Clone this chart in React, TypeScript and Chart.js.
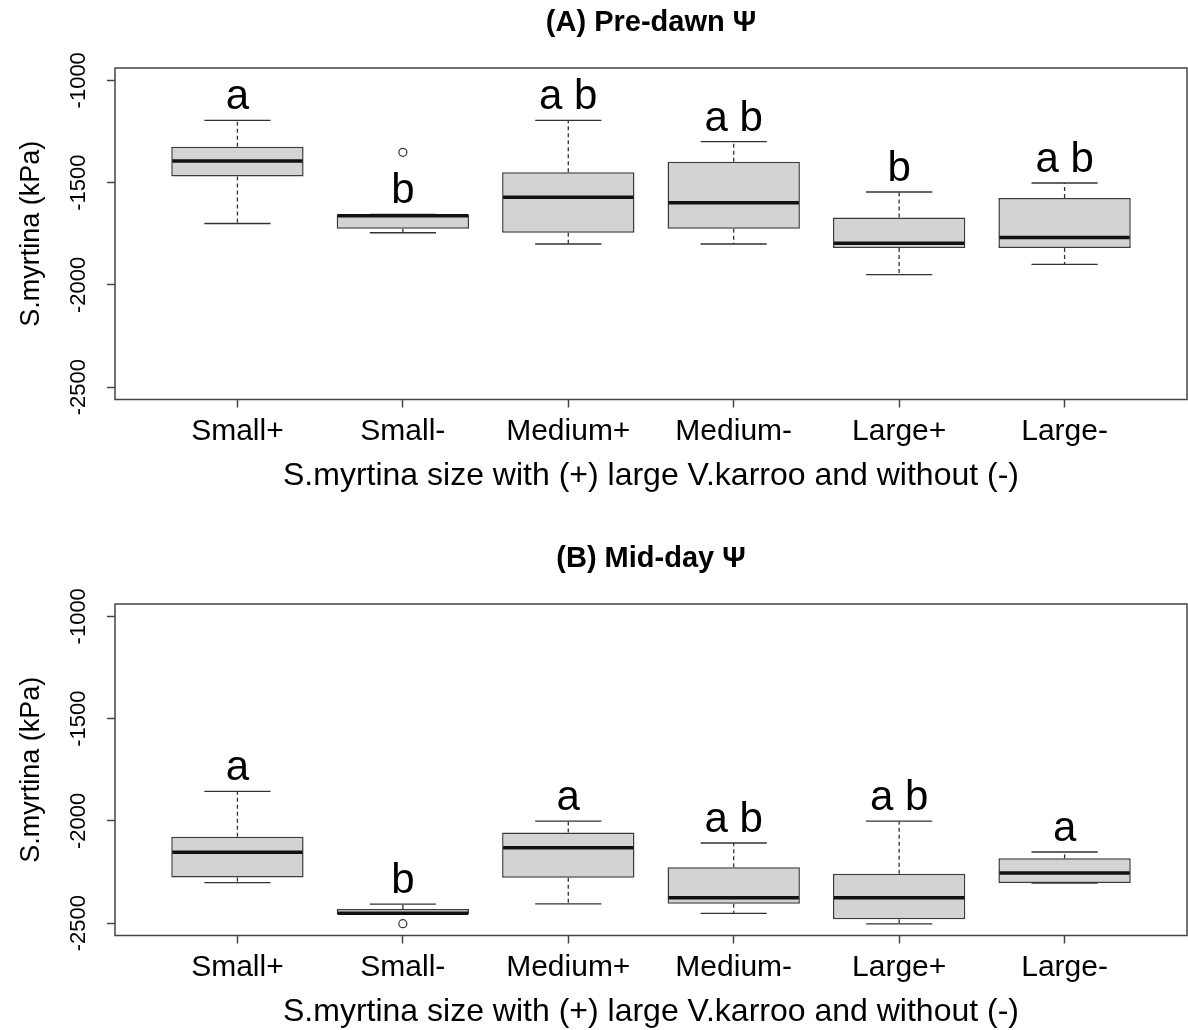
import React, { useEffect, useRef } from "react";
import { Chart, registerables } from "chart.js";

Chart.register(...registerables);

// ---------- data ----------
const categories = ["Small+", "Small-", "Medium+", "Medium-", "Large+", "Large-"];
const yTickValues = [-2500, -2000, -1500, -1000];
const yAxisMin = -2560;
const yAxisMax = -940;
const xAxisMin = 0.26;
const xAxisMax = 6.74;

// (A) Pre-dawn water potential (kPa)
const predawnLower = [-1700, -1745, -1800, -1800, -1950, -1900];
const predawnQ1 = [-1470, -1725, -1745, -1725, -1820, -1820];
const predawnMedian = [-1395, -1662, -1572, -1598, -1796, -1768];
const predawnQ3 = [-1325, -1655, -1450, -1398, -1670, -1575];
const predawnUpper = [-1196, -1655, -1196, -1300, -1546, -1502];
const predawnOutliers = [{ x: 2, y: -1352 }];
const predawnLetters = ["a", "b", "a b", "a b", "b", "a b"];

// (B) Mid-day water potential (kPa)
const middayLower = [-2302, -2457, -2405, -2452, -2503, -2304];
const middayQ1 = [-2276, -2457, -2278, -2405, -2480, -2304];
const middayMedian = [-2153, -2451, -2131, -2376, -2376, -2255];
const middayQ3 = [-2078, -2430, -2057, -2227, -2258, -2183];
const middayUpper = [-1856, -2407, -2001, -2108, -2001, -2152];
const middayOutliers = [{ x: 2, y: -2502 }];
const middayLetters = ["a", "b", "a", "a b", "a b", "a"];

const yTitle = "S.myrtina (kPa)";
const xTitle = "S.myrtina size with (+) large V.karroo and without (-)";

type Panel = {
  title: string;
  lower: number[];
  q1: number[];
  median: number[];
  q3: number[];
  upper: number[];
  outliers: { x: number; y: number }[];
  letters: string[];
};

const panelA: Panel = {
  title: "(A) Pre-dawn \u03A8",
  lower: predawnLower,
  q1: predawnQ1,
  median: predawnMedian,
  q3: predawnQ3,
  upper: predawnUpper,
  outliers: predawnOutliers,
  letters: predawnLetters,
};

const panelB: Panel = {
  title: "(B) Mid-day \u03A8",
  lower: middayLower,
  q1: middayQ1,
  median: middayMedian,
  q3: middayQ3,
  upper: middayUpper,
  outliers: middayOutliers,
  letters: middayLetters,
};

const FONT = "'Liberation Sans', Arial, Helvetica, sans-serif";
const W = 1188;
const X_SCALE_H = 96;
const Y_SCALE_W = 115;
const AREA_BOTTOM = 399.5;

function buildChart(canvas: HTMLCanvasElement, panel: Panel, height: number) {
  const partsPlugin = {
    id: "boxParts",
    afterDatasetsDraw(chart: any) {
      const ctx = chart.ctx;
      const ys = chart.scales.y;
      const meta = chart.getDatasetMeta(0);
      ctx.save();
      meta.data.forEach((bar: any, i: number) => {
        const cx = bar.x;
        const w = bar.width;
        const pQ1 = ys.getPixelForValue(panel.q1[i]);
        const pQ3 = ys.getPixelForValue(panel.q3[i]);
        const pLo = ys.getPixelForValue(panel.lower[i]);
        const pHi = ys.getPixelForValue(panel.upper[i]);
        const pMed = ys.getPixelForValue(panel.median[i]);
        // dashed whiskers
        ctx.strokeStyle = "#333";
        ctx.lineWidth = 1.3;
        ctx.setLineDash([4, 3]);
        ctx.beginPath();
        ctx.moveTo(cx, pQ3);
        ctx.lineTo(cx, pHi);
        ctx.moveTo(cx, pQ1);
        ctx.lineTo(cx, pLo);
        ctx.stroke();
        // staples
        ctx.setLineDash([]);
        ctx.beginPath();
        ctx.moveTo(cx - w / 4, pHi);
        ctx.lineTo(cx + w / 4, pHi);
        ctx.moveTo(cx - w / 4, pLo);
        ctx.lineTo(cx + w / 4, pLo);
        ctx.stroke();
        // median
        ctx.strokeStyle = "#111";
        ctx.lineWidth = 3.5;
        ctx.beginPath();
        ctx.moveTo(cx - w / 2 + 1, pMed);
        ctx.lineTo(cx + w / 2 - 1, pMed);
        ctx.stroke();
        // significance letters
        ctx.fillStyle = "#000";
        ctx.font = `42px ${FONT}`;
        ctx.textAlign = "center";
        ctx.textBaseline = "alphabetic";
        ctx.fillText(panel.letters[i], cx, pHi - 11);
      });
      ctx.restore();
    },
  };

  const framePlugin = {
    id: "frame",
    afterDraw(chart: any) {
      const { left, top, right, bottom } = chart.chartArea;
      const ctx = chart.ctx;
      ctx.save();
      ctx.strokeStyle = "#444";
      ctx.lineWidth = 1.5;
      ctx.strokeRect(left, top, right - left, bottom - top);
      ctx.restore();
    },
  };

  return new Chart(canvas, {
    type: "bar",
    data: {
      datasets: [
        {
          type: "bar",
          data: categories.map((_, i) => ({ x: i + 1, y: [panel.q1[i], panel.q3[i]] })) as any,
          backgroundColor: "#d3d3d3",
          borderColor: "#3a3a3a",
          borderWidth: 1.5,
          borderSkipped: false,
          barPercentage: 0.8,
          categoryPercentage: 1.0,
        },
        {
          type: "scatter",
          data: panel.outliers,
          pointStyle: "circle",
          pointRadius: 4,
          backgroundColor: "rgba(0,0,0,0)",
          borderColor: "#333",
          borderWidth: 1.2,
        } as any,
      ],
    },
    options: {
      responsive: false,
      maintainAspectRatio: false,
      devicePixelRatio: 1,
      animation: false,
      events: [],
      layout: {
        autoPadding: false,
        padding: { top: 0, left: 0, right: 1, bottom: height - AREA_BOTTOM - X_SCALE_H },
      },
      plugins: {
        legend: { display: false },
        tooltip: { enabled: false },
        title: {
          display: true,
          text: panel.title,
          fullSize: false,
          color: "#000",
          font: { family: FONT, size: 29, weight: "bold" },
          padding: { top: 5.6, bottom: 27.6 },
        },
      },
      scales: {
        x: {
          type: "linear",
          min: xAxisMin,
          max: xAxisMax,
          offset: false,
          afterBuildTicks: (scale: any) => {
            scale.ticks = categories.map((_, i) => ({ value: i + 1 }));
          },
          afterFit: (scale: any) => {
            scale.height = X_SCALE_H;
          },
          grid: {
            offset: false,
            drawOnChartArea: false,
            drawTicks: true,
            tickLength: 8,
            tickColor: "#444",
            tickWidth: 1.5,
          },
          border: { display: false },
          ticks: {
            autoSkip: false,
            maxRotation: 0,
            minRotation: 0,
            padding: 6,
            color: "#000",
            font: { family: FONT, size: 30 },
            callback: (v: any) => categories[Math.round(Number(v)) - 1] ?? "",
          },
          title: {
            display: true,
            text: xTitle,
            color: "#000",
            font: { family: FONT, size: 32 },
            padding: { top: 0, bottom: 0 },
          },
        },
        y: {
          type: "linear",
          min: yAxisMin,
          max: yAxisMax,
          afterBuildTicks: (scale: any) => {
            scale.ticks = yTickValues.map((v) => ({ value: v }));
          },
          afterFit: (scale: any) => {
            scale.width = Y_SCALE_W;
          },
          grid: {
            drawOnChartArea: false,
            drawTicks: true,
            tickLength: 8,
            tickColor: "#444",
            tickWidth: 1.5,
          },
          border: { display: false },
          ticks: {
            minRotation: 90,
            maxRotation: 90,
            crossAlign: "center",
            padding: 0,
            color: "#000",
            font: { family: FONT, size: 22 },
            callback: (v: any) => String(v),
          },
          title: {
            display: true,
            text: yTitle,
            color: "#000",
            font: { family: FONT, size: 27 },
            padding: { top: 15, bottom: 0 },
          },
        },
      },
    },
    plugins: [partsPlugin, framePlugin],
  } as any);
}

function BoxPanel({ panel, top, height }: { panel: Panel; top: number; height: number }) {
  const ref = useRef<HTMLCanvasElement | null>(null);
  useEffect(() => {
    if (!ref.current) return;
    const chart = buildChart(ref.current, panel, height);
    return () => chart.destroy();
  }, [panel, height]);
  return (
    <canvas
      ref={ref}
      width={W}
      height={height}
      style={{ position: "absolute", left: 0, top, width: W, height, display: "block" }}
    />
  );
}

export default function App() {
  return (
    <div style={{ position: "absolute", left: 0, top: 0, width: W, height: 1030, background: "#fff", overflow: "hidden" }}>
      <BoxPanel panel={panelA} top={0} height={536} />
      <BoxPanel panel={panelB} top={536} height={496} />
    </div>
  );
}
